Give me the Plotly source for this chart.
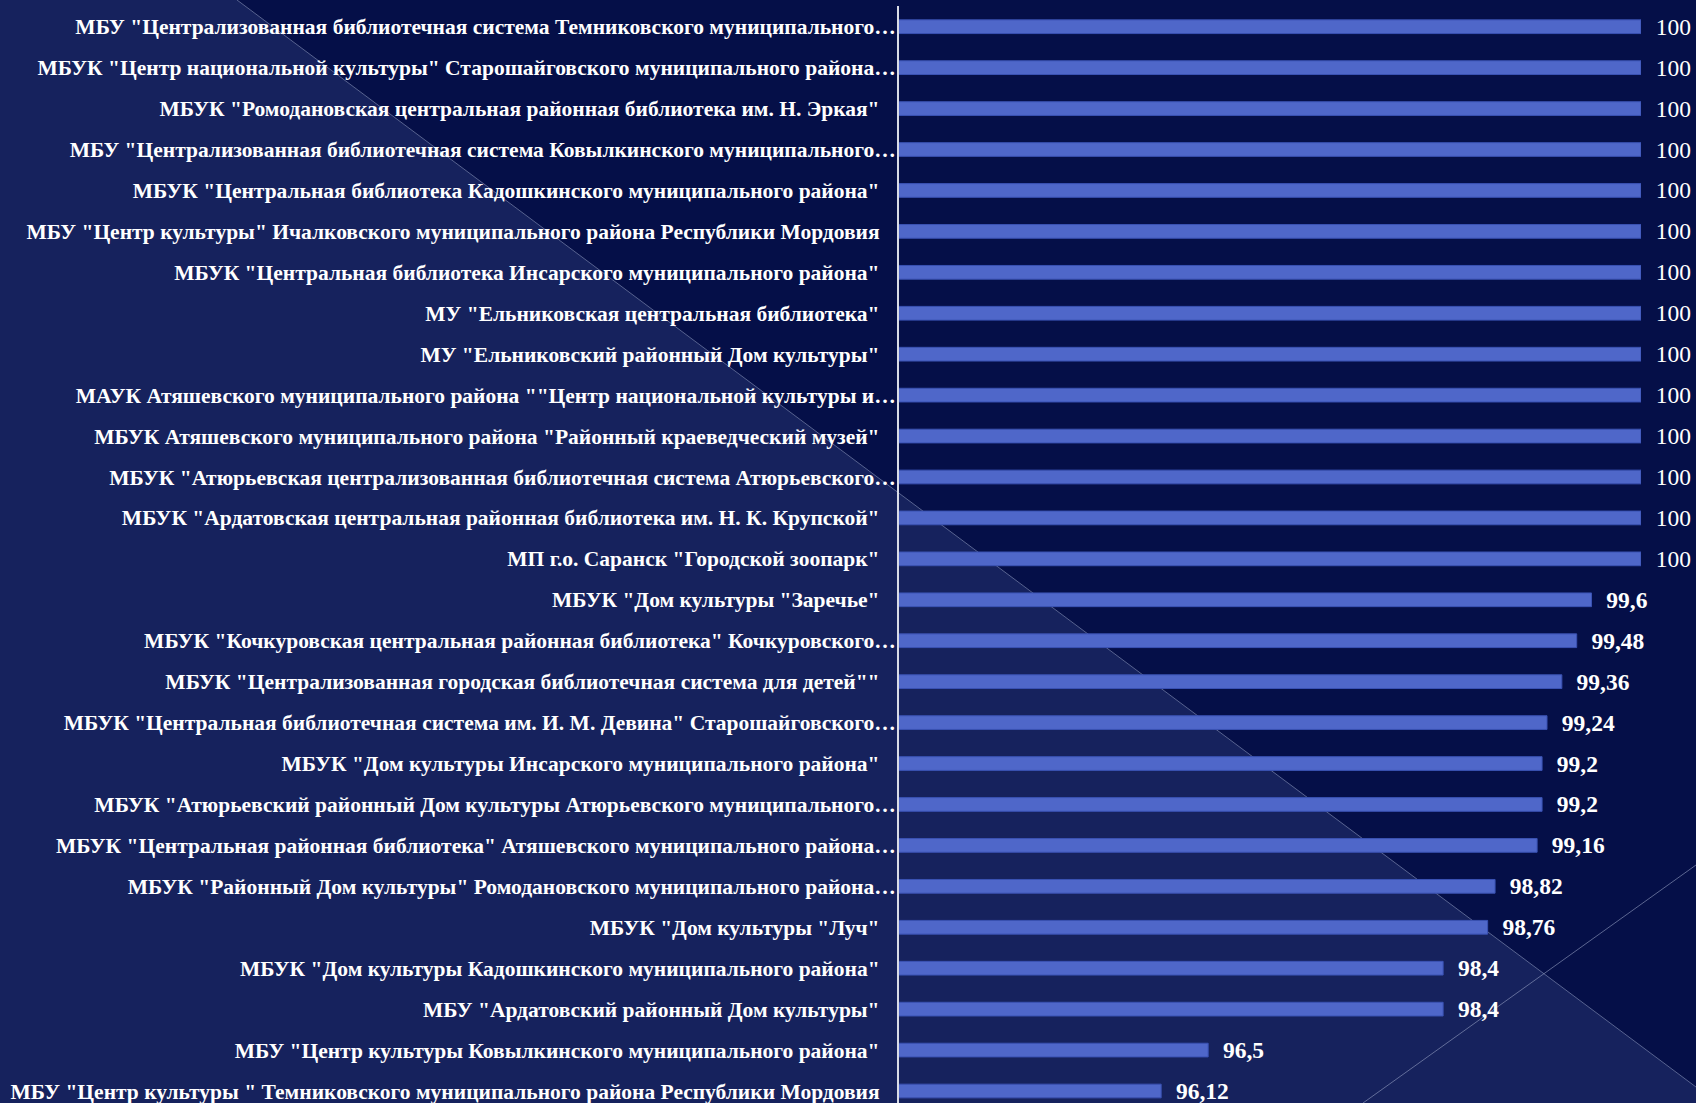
import plotly.graph_objects as go

categories = [
    'МБУ "Централизованная библиотечная система Темниковского муниципального…',
    'МБУК "Центр национальной культуры" Старошайговского муниципального района…',
    'МБУК "Ромодановская центральная районная библиотека им. Н. Эркая"',
    'МБУ "Централизованная библиотечная система Ковылкинского муниципального…',
    'МБУК "Центральная библиотека Кадошкинского муниципального района"',
    'МБУ "Центр культуры" Ичалковского муниципального района Республики Мордовия',
    'МБУК "Центральная библиотека Инсарского муниципального района"',
    'МУ "Ельниковская центральная библиотека"',
    'МУ "Ельниковский районный Дом культуры"',
    'МАУК Атяшевского муниципального района ""Центр национальной культуры и…',
    'МБУК Атяшевского муниципального района "Районный краеведческий музей"',
    'МБУК "Атюрьевская централизованная библиотечная система Атюрьевского…',
    'МБУК "Ардатовская центральная районная библиотека им. Н. К. Крупской"',
    'МП г.о. Саранск "Городской зоопарк"',
    'МБУК "Дом культуры "Заречье"',
    'МБУК "Кочкуровская центральная районная библиотека" Кочкуровского…',
    'МБУК "Централизованная городская библиотечная система для детей""',
    'МБУК "Центральная библиотечная система им. И. М. Девина" Старошайговского…',
    'МБУК "Дом культуры Инсарского муниципального района"',
    'МБУК "Атюрьевский районный Дом культуры Атюрьевского муниципального…',
    'МБУК "Центральная районная библиотека" Атяшевского муниципального района…',
    'МБУК "Районный Дом культуры" Ромодановского муниципального района…',
    'МБУК "Дом культуры "Луч"',
    'МБУК "Дом культуры Кадошкинского муниципального района"',
    'МБУ "Ардатовский районный Дом культуры"',
    'МБУ "Центр культуры Ковылкинского муниципального района"',
    'МБУ "Центр культуры " Темниковского муниципального района Республики Мордовия',
]

values = [100, 100, 100, 100, 100, 100, 100, 100, 100, 100, 100, 100, 100, 100,
          99.6, 99.48, 99.36, 99.24, 99.2, 99.2, 99.16, 98.82, 98.76, 98.4, 98.4,
          96.5, 96.12]

# ---- layout geometry (pixels) ----
W, H = 1696, 1103
L, R, T, B = 899, 1641, 6, 1103

def px(x):
    return (x - L) / (R - L)

def py(y):
    return 1 - (y - T) / (B - T)

# tick labels: truncated ones touch the axis, others get a trailing gap
NB = "\u00a0"
tick_text = [c if c.endswith("…") else c + NB * 3 for c in categories]

def fmt(v):
    s = f"{v:g}".replace(".", ",")
    return NB * 2 + (s if v == 100 else f"<b>{s}</b>")

labels = [fmt(v) for v in values]

label_font = dict(family="Liberation Serif, Times New Roman, serif", size=23.5, color="#ffffff")

fig = go.Figure()
fig.add_trace(go.Bar(
    x=values,
    y=categories,
    orientation="h",
    marker=dict(color="#4f67c9", line=dict(color="#3a52b3", width=1)),
    text=labels,
    texttemplate="%{text}",
    textposition="outside",
    constraintext="none",
    cliponaxis=False,
    textfont=label_font,
    outsidetextfont=label_font,
    hoverinfo="skip",
))

shapes = [
    # lighter lower-left region
    dict(type="path", xref="paper", yref="paper", layer="below",
         path=f"M {px(0)},{py(0)} L {px(237)},{py(0)} L {px(1696)},{py(1087)} "
              f"L {px(1696)},{py(1103)} L {px(0)},{py(1103)} Z",
         fillcolor="#16225d", line=dict(width=0)),
    dict(type="line", xref="paper", yref="paper", layer="below",
         x0=px(237), y0=py(0), x1=px(1696), y1=py(1087),
         line=dict(color="rgba(150,160,195,0.55)", width=1)),
    dict(type="line", xref="paper", yref="paper", layer="below",
         x0=px(1363), y0=py(1103), x1=px(1696), y1=py(865),
         line=dict(color="rgba(150,160,195,0.6)", width=1)),
]

fig.update_layout(
    width=W, height=H, autosize=False,
    margin=dict(l=L, r=W - R, t=T, b=H - B, pad=0, autoexpand=False),
    paper_bgcolor="#050f48",
    plot_bgcolor="rgba(0,0,0,0)",
    bargap=0.665,
    showlegend=False,
    shapes=shapes,
    xaxis=dict(range=[94, 100], visible=False, fixedrange=True, automargin=False),
    yaxis=dict(
        type="category",
        range=[26.293, -0.506],
        autorange=False,
        automargin=False,
        tickmode="array",
        tickvals=categories,
        ticktext=tick_text,
        tickfont=dict(family="Liberation Serif, Times New Roman, serif", size=21.5,
                      color="#ffffff", weight="bold"),
        showline=True, linecolor="#d9dce6", linewidth=2,
        showgrid=False, ticks="", ticklabelstandoff=-3,
        fixedrange=True,
    ),
    hovermode=False,
)

fig.write_html("out.html", config={"displayModeBar": False},
               post_script="document.body.style.margin='0';document.body.style.overflow='hidden';")
